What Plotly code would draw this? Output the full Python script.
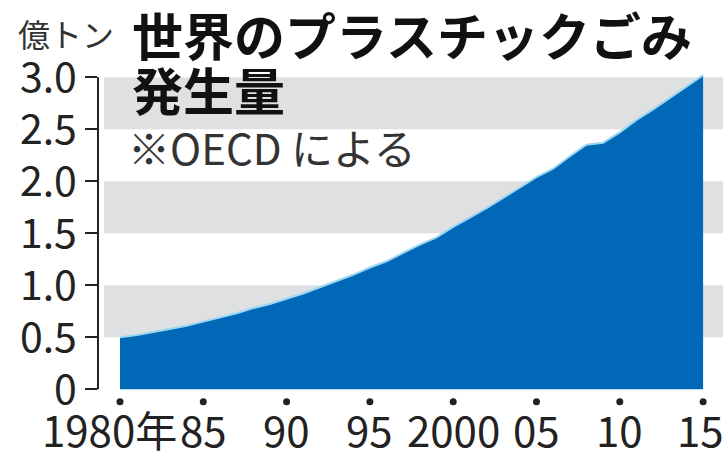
import plotly.graph_objects as go

# ---- data ----
years = list(range(1980, 2016))
waste = [0.50, 0.52, 0.55, 0.58, 0.61, 0.65, 0.69, 0.73, 0.78, 0.82,
         0.87, 0.92, 0.98, 1.04, 1.10, 1.17, 1.23, 1.31, 1.39, 1.46,
         1.56, 1.65, 1.74, 1.84, 1.94, 2.04, 2.12, 2.24, 2.35, 2.37,
         2.47, 2.59, 2.69, 2.80, 2.91, 3.02]
tick_years = [1980, 1985, 1990, 1995, 2000, 2005, 2010, 2015]
tick_labels = ["1980年", "85", "90", "95", "2000", "05", "10", "15"]
y_ticks = [0, 0.5, 1.0, 1.5, 2.0, 2.5, 3.0]
y_tick_labels = ["0", "0.5", "1.0", "1.5", "2.0", "2.5", "3.0"]
bands = [(0.5, 1.0), (1.5, 2.0), (2.5, 3.0)]
title_line1 = "世界のプラスチックごみ"
title_line2 = "発生量"
note = "※OECD による"
unit = "億トン"

# ---- style ----
W, H = 723, 455
Y0_PX = 389          # pixel row of value 0
PX_PER_UNIT = 104
Y_MIN, Y_MAX = -0.2, 3.05
ML, MR = 98, 0
MT = Y0_PX - Y_MAX * PX_PER_UNIT
MB = H - (Y0_PX - Y_MIN * PX_PER_UNIT)
PW = W - ML - MR
PH = H - MT - MB
PX_PER_YEAR = 83.3 / 5
X1980_PX = 120
FONT = "Noto Sans CJK JP, sans-serif"
INK = "#222222"
BLUE = "#0068b7"
EDGE = "#9ad6f2"
BAND = "#dfe0e2"
DOT_Y = -0.12


def px_x(p):
    return (p - ML) / PW


def px_y(p):
    return (H - MB - p) / PH


fig = go.Figure()

fig.add_trace(go.Scatter(
    x=years, y=waste, mode="lines", fill="tozeroy",
    fillcolor=BLUE, line=dict(color=EDGE, width=2),
    hoverinfo="skip", showlegend=False))

fig.add_trace(go.Scatter(
    x=tick_years, y=[DOT_Y] * len(tick_years), mode="markers",
    marker=dict(color=INK, size=7), cliponaxis=False,
    hoverinfo="skip", showlegend=False))

shapes = []
for y0, y1 in bands:
    shapes.append(dict(type="rect", xref="paper", yref="y",
                       x0=px_x(104), x1=1, y0=y0, y1=y1,
                       fillcolor=BAND, line=dict(width=0), layer="below"))
shapes.append(dict(type="line", xref="paper", yref="y",
                   x0=0, x1=0, y0=0, y1=3.0,
                   line=dict(color=INK, width=2)))

annotations = []
n_ticks = len(tick_years)
for i, (yr, lab) in enumerate(zip(tick_years, tick_labels)):
    shift = -11 if i == 0 else (-3 if i == n_ticks - 1 else 0)
    annotations.append(dict(
        x=yr, y=0, xref="x", yref="y", text=lab, showarrow=False,
        xanchor="center", yanchor="middle", yshift=-39, xshift=shift,
        font=dict(family=FONT, size=42, color=INK)))

annotations += [
    dict(x=px_x(66), y=px_y(33), xref="paper", yref="paper", text=unit,
         showarrow=False, xanchor="center", yanchor="middle",
         font=dict(family=FONT, size=32, color="#333333")),
    dict(x=px_x(130), y=px_y(34), xref="paper", yref="paper",
         text="<b>" + title_line1 + "</b>", showarrow=False,
         xanchor="left", yanchor="middle",
         font=dict(family=FONT, size=51, color="#111111")),
    dict(x=px_x(130), y=px_y(89), xref="paper", yref="paper",
         text="<b>" + title_line2 + "</b>", showarrow=False,
         xanchor="left", yanchor="middle",
         font=dict(family=FONT, size=51, color="#111111")),
    dict(x=px_x(126), y=px_y(146), xref="paper", yref="paper",
         text=note, showarrow=False, xanchor="left", yanchor="middle",
         font=dict(family=FONT, size=42, color="#333333")),
]

x_lo = 1980 + (ML - X1980_PX) / PX_PER_YEAR
x_hi = 1980 + (W - MR - X1980_PX) / PX_PER_YEAR

fig.update_layout(
    template="none",
    width=W, height=H,
    margin=dict(l=ML, r=MR, t=MT, b=MB, pad=0),
    paper_bgcolor="white", plot_bgcolor="white",
    showlegend=False, hovermode=False,
    shapes=shapes, annotations=annotations,
    xaxis=dict(range=[x_lo, x_hi], automargin=False,
               showgrid=False, zeroline=False, showline=False,
               showticklabels=False, ticks="", fixedrange=True),
    yaxis=dict(range=[Y_MIN, Y_MAX], automargin=False,
               showgrid=False, zeroline=False, showline=False,
               tickvals=y_ticks, ticktext=y_tick_labels,
               ticks="outside", ticklen=12, tickwidth=2, tickcolor=INK,
               tickfont=dict(family=FONT, size=41, color=INK),
               fixedrange=True),
)

fig.write_html("out.html",
               config={"displayModeBar": False, "staticPlot": True},
               post_script="document.body.style.margin='0';")
